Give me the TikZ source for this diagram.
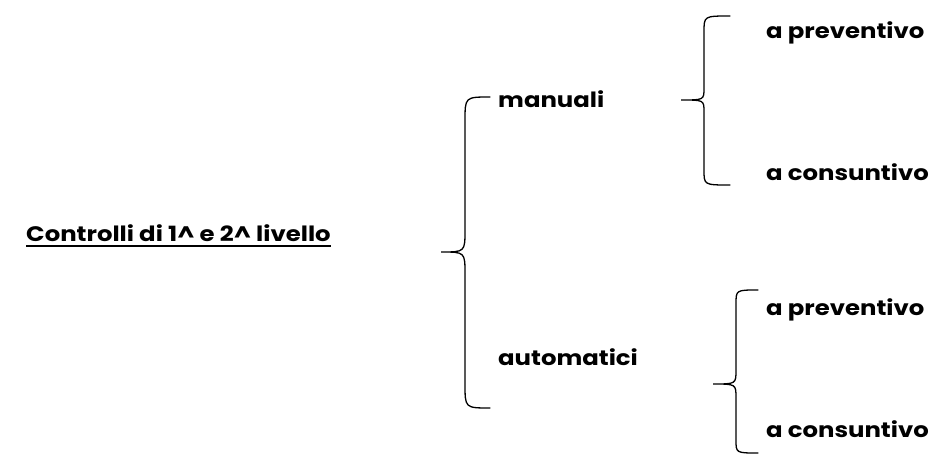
\documentclass[tikz,border=0pt]{standalone}
\usepackage{fontspec}
\setmainfont[FakeStretch=1.16]{Poppins}
\begin{document}
\begin{tikzpicture}[x=1pt,y=-1pt,
  lbl/.style={anchor=base west,inner sep=0pt,font=\fontsize{21}{24}\selectfont\bfseries},
  brace/.style={line width=1.3pt,line cap=round}]
\useasboundingbox (0,0) rectangle (932,455);
\node[lbl] (root) at (26,241) {Controlli di 1\^{} e 2\^{} livello};
\draw[line width=1.8pt] ([yshift=-5pt]root.base west) -- ([yshift=-5pt]root.base east);
\node[lbl] (man) at (498,107) {manuali};
\node[lbl] (aut) at (498,365) {automatici};
\node[lbl] (mp) at (766,38) {a preventivo};
\node[lbl] (mc) at (766,180) {a consuntivo};
\node[lbl] (ap) at (766,315) {a preventivo};
\node[lbl] (ac) at (766,437) {a consuntivo};
% big brace
\draw[brace] (490,97) .. controls (465,97) .. (465,121) -- (465,230)
  .. controls (465,252) .. (441,252) .. controls (465,252) .. (465,274)
  -- (465,384) .. controls (465,408) .. (490,408);
% upper-right brace
\draw[brace] (730,16) .. controls (704,16) .. (704,32) -- (704,88)
  .. controls (704,100) .. (681,100) .. controls (704,100) .. (704,112)
  -- (704,170) .. controls (704,185) .. (730,185);
% lower-right brace
\draw[brace] (758,290) .. controls (736,290) .. (736,304) -- (736,370)
  .. controls (736,384) .. (713,384) .. controls (736,384) .. (736,398)
  -- (736,440) .. controls (736,453) .. (758,453);
\end{tikzpicture}
\end{document}
